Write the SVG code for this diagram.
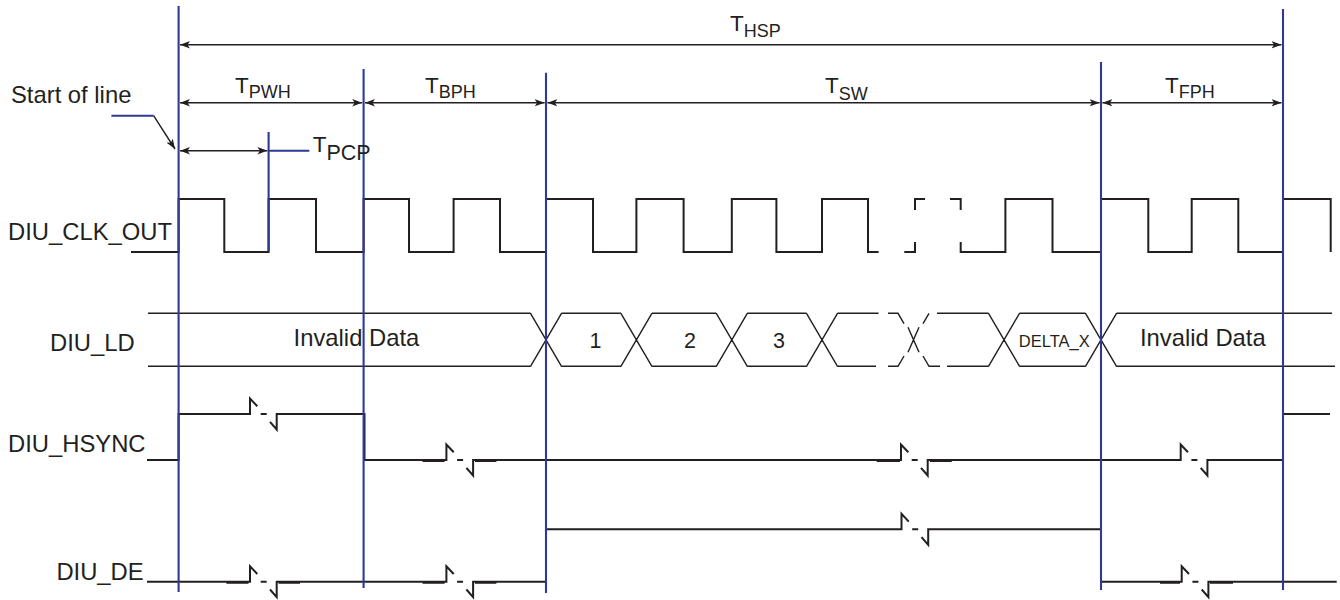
<svg xmlns="http://www.w3.org/2000/svg" width="1340" height="600" viewBox="0 0 1340 600">
<style>
text{font-family:"Liberation Sans",Arial,Helvetica,sans-serif;fill:#231f20}
.lbl{font-size:23.8px}
.tm{font-size:22.5px}
.ts{font-size:18px}
.dig{font-size:21.5px}
.sig{fill:none;stroke:#231f20;stroke-width:2;stroke-linejoin:miter;stroke-linecap:butt}
.ld{fill:none;stroke:#231f20;stroke-width:1.4}
.blue{stroke:#2e3a94;stroke-width:2.1;fill:none}
.dim{stroke:#231f20;stroke-width:1.4;fill:none}
</style>
<defs>
<marker id="ah" viewBox="0 0 10 8" refX="10" refY="4" markerWidth="10" markerHeight="8" markerUnits="userSpaceOnUse" orient="auto-start-reverse">
<path d="M0,0.3 L10,4 L0,7.7 L2.5,4 z" fill="#231f20"/>
</marker>
</defs>
<rect width="1340" height="600" fill="#ffffff"/>

<g id="clk">
<text class="lbl" x="8" y="239.5">DIU_CLK_OUT</text>
<path class="sig" d="M131,252 H178.6 V199 H224.3 V252 H268.6 V199 H316 V252 H363.6 V199 H409 V252 H453.6 V199 H500 V252 H546 V199 H593 V252 H636.4 V199 H683.6 V252 H731.8 V199 H776.4 V252 H822 V199 H868 V252 H878.6 M904.3,252 H915 V242 M915,210 V199 H925 M950,199 H960.7 V210 M960.7,242 V252 H1005.4 V199 H1052.5 V252 H1101 V199 H1148.3 V252 H1191.7 V199 H1238.3 V252 H1283 V199 H1330.7 V252"/>
</g>

<g id="ld">
<text class="lbl" x="50" y="351">DIU_LD</text>
<path class="ld" d="M148,313.3 H530.5 M148,366.3 H530.5
M530.5,313.3 L561.5,366.3 M530.5,366.3 L561.5,313.3
M561.5,313.3 H620.9 M561.5,366.3 H620.9
M620.9,313.3 L651.9,366.3 M620.9,366.3 L651.9,313.3
M651.9,313.3 H716.3 M651.9,366.3 H716.3
M716.3,313.3 L747.3,366.3 M716.3,366.3 L747.3,313.3
M747.3,313.3 H806.5 M747.3,366.3 H806.5
M806.5,313.3 L837.5,366.3 M806.5,366.3 L837.5,313.3
M837.5,313.3 H878.6 M888,313.3 H898 L904,323.6
M837.5,366.3 H876 M888,366.3 H898 L904,356
M908,327.3 L919,352.3 M908,352.3 L919,327.3
M923,323.6 L929,313.3 M937,313.3 H988.5
M923,356 L929,366.3 H940 M947,366.3 H988.5
M988.5,313.3 L1019.5,366.3 M988.5,366.3 L1019.5,313.3
M1019.5,313.3 H1085.5 M1019.5,366.3 H1085.5
M1085.5,313.3 L1116.5,366.3 M1085.5,366.3 L1116.5,313.3
M1116.5,313.3 H1332 M1116.5,366.3 H1335"/>
<text class="lbl" x="293.6" y="346">Invalid Data</text>
<text class="dig" x="595.4" y="347.7" text-anchor="middle">1</text>
<text class="dig" x="690" y="347.7" text-anchor="middle">2</text>
<text class="dig" x="779" y="347.7" text-anchor="middle">3</text>
<text x="1054.3" y="346.7" text-anchor="middle" style="font-size:16.5px">DELTA_X</text>
<text class="lbl" x="1140" y="346">Invalid Data</text>
</g>

<g id="hsync">
<text class="lbl" x="8" y="451.7">DIU_HSYNC</text>
<path class="sig" d="M147,460 H178.6 V414 H250 V398.5 L257.3,406.3 M260.7,414 H266.7 M270,421.8 L276.7,429.5 V414 H364.5 V460 H446.4 V444.5 L453.7,452.3 M457.1,460 H463.1 M466.4,467.8 L473.1,475.5 V460 H901 V444.5 L908.3,452.3 M911.7,460 H917.7 M921,467.8 L927.7,475.5 V460 H1180.7 V444.5 L1188,452.3 M1191.4,460 H1197.4 M1200.7,467.8 L1207.4,475.5 V460 H1283 V414 H1330"/>
<path class="sig" d="M422.5,461 H444.6 M475,461 H496.4 M876.7,461 H900 M930,461 H951.7"/>
</g>

<g id="de">
<text class="lbl" x="56.4" y="580">DIU_DE</text>
<path class="sig" d="M147,581.7 H250 V566.2 L257.3,574 M260.7,581.7 H266.7 M270,589.5 L276.7,597.2 V581.7 H446.4 V566.2 L453.7,574 M457.1,581.7 H463.1 M466.4,589.5 L473.1,597.2 V581.7 H546 V529.3 H901.5 V513.8 L908.8,521.6 M912.2,529.3 H918.2 M921.5,537.1 L928.2,544.8 V529.3 H1101 V581.7 H1181.7 V566.2 L1189,574 M1192.4,581.7 H1198.4 M1201.7,589.5 L1208.4,597.2 V581.7 H1336.7"/>
<path class="sig" d="M226.4,582.7 H248.5 M278.5,582.7 H300 M422.5,582.7 H444.6 M475,582.7 H496.4 M1160,582.7 H1180 M1210,582.7 H1233"/>
</g>

<g id="timing-markers">
<line class="blue" x1="178.6" y1="6" x2="178.6" y2="592"/>
<line class="blue" x1="268.6" y1="132" x2="268.6" y2="251"/>
<line class="blue" x1="363.6" y1="69" x2="363.6" y2="588"/>
<line class="blue" x1="546" y1="72.7" x2="546" y2="593"/>
<line class="blue" x1="1101" y1="62" x2="1101" y2="590"/>
<line class="blue" x1="1283" y1="9" x2="1283" y2="590"/>
</g>

<g id="start-of-line">
<text class="lbl" x="11" y="103.3">Start of line</text>
</g>

<g id="connectors">
<line class="blue" x1="111.4" y1="115.7" x2="153.6" y2="115.7"/>
<line class="dim" x1="153.6" y1="115.7" x2="175" y2="149" marker-end="url(#ah)"/>
<line class="dim" x1="180" y1="44.7" x2="1281.5" y2="44.7" marker-start="url(#ah)" marker-end="url(#ah)"/>
<line class="dim" x1="180" y1="102.8" x2="362.2" y2="102.8" marker-start="url(#ah)" marker-end="url(#ah)"/>
<line class="dim" x1="365" y1="102.8" x2="544.6" y2="102.8" marker-start="url(#ah)" marker-end="url(#ah)"/>
<line class="dim" x1="547.4" y1="102.8" x2="1099.6" y2="102.8" marker-start="url(#ah)" marker-end="url(#ah)"/>
<line class="dim" x1="1102.4" y1="102.8" x2="1281.5" y2="102.8" marker-start="url(#ah)" marker-end="url(#ah)"/>
<line class="dim" x1="180" y1="150.7" x2="267.4" y2="150.7" marker-start="url(#ah)" marker-end="url(#ah)"/>
<line class="blue" x1="268.6" y1="150.7" x2="309.3" y2="150.7"/>
</g>

<g id="dim-labels">
<text class="tm" x="730" y="30.7">T<tspan class="ts" dy="6">HSP</tspan></text>
<text class="tm" x="235" y="92.7">T<tspan class="ts" dy="5.6">PWH</tspan></text>
<text class="tm" x="425" y="92.7">T<tspan class="ts" dy="5.6">BPH</tspan></text>
<text class="tm" x="825" y="93.3">T<tspan class="ts" dy="6.7">SW</tspan></text>
<text class="tm" x="1165" y="92.7">T<tspan class="ts" dy="5.6">FPH</tspan></text>
<text class="tm" x="312.7" y="151.7">T<tspan dy="7.8" style="font-size:21.5px">PCP</tspan></text>
</g>
</svg>
